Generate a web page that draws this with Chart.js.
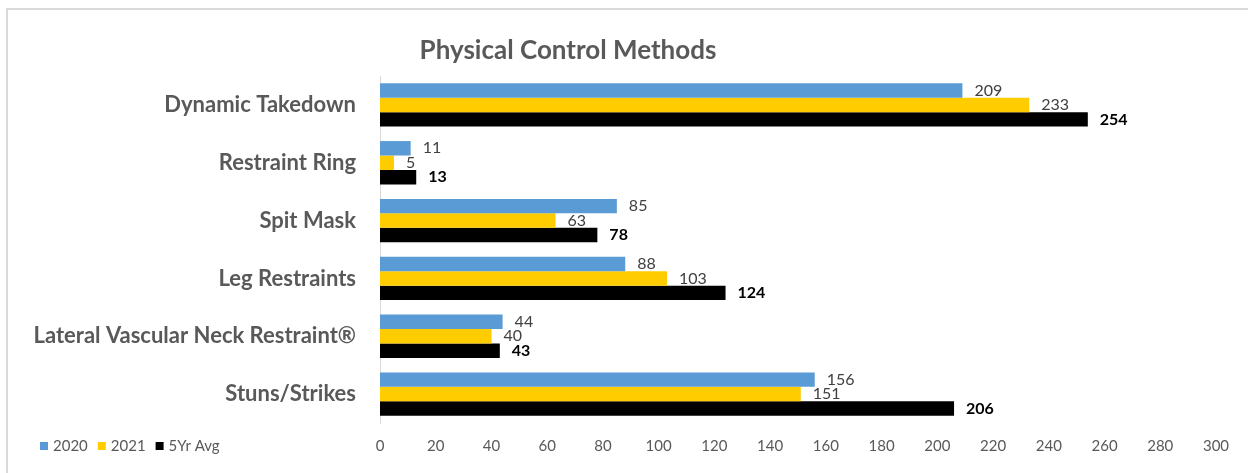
<!DOCTYPE html>
<html>
<head>
<meta charset="utf-8">
<script src="https://cdn.jsdelivr.net/npm/chart.js@4.4.0/dist/chart.umd.min.js"></script>
<style>
html,body{margin:0;padding:0;background:#fff;}
#wrap{position:relative;width:1248px;height:473px;}
</style>
</head>
<body>
<div id="wrap"><canvas id="c" width="1248" height="473"></canvas></div>
<script>
const titleText = "Physical Control Methods";
const categories = ["Dynamic Takedown", "Restraint Ring", "Spit Mask", "Leg Restraints", "Lateral Vascular Neck Restraint®", "Stuns/Strikes"];
const seriesNames = ["2020", "2021", "5Yr Avg"];
const values2020 = [209, 11, 85, 88, 44, 156];
const values2021 = [233, 5, 63, 103, 40, 151];
const values5yr = [254, 13, 78, 124, 43, 206];
const xTicks = [0, 20, 40, 60, 80, 100, 120, 140, 160, 180, 200, 220, 240, 260, 280, 300];

const FONT = "Lato, 'Open Sans', sans-serif";
const colors = ["#5B9BD5", "#FFCC00", "#000000"];

const framePlugin = {
  id: 'frame',
  beforeDraw(chart) {
    const ctx = chart.ctx;
    ctx.save();
    ctx.fillStyle = '#fff';
    ctx.fillRect(0, 0, chart.width, chart.height);
    ctx.strokeStyle = '#d9d9d9';
    ctx.lineWidth = 2;
    ctx.beginPath();
    ctx.moveTo(7, chart.height + 5);
    ctx.lineTo(7, 9);
    ctx.lineTo(chart.width + 5, 9);
    ctx.stroke();
    ctx.restore();
  }
};

const extrasPlugin = {
  id: 'extras',
  afterDatasetsDraw(chart) {
    const ctx = chart.ctx;
    ctx.save();
    // data labels
    chart.data.datasets.forEach((ds, di) => {
      const meta = chart.getDatasetMeta(di);
      meta.data.forEach((bar, i) => {
        const bold = di === 2;
        ctx.font = (bold ? "bold " : "") + "16px " + FONT;
        ctx.fillStyle = bold ? "#000000" : "#404040";
        ctx.textAlign = "left";
        ctx.textBaseline = "middle";
        ctx.fillText(String(ds.data[i]), bar.x + 12, bar.y);
      });
    });
    // title
    ctx.font = "bold 26px " + FONT;
    ctx.fillStyle = "#595959";
    ctx.textAlign = "center";
    ctx.textBaseline = "middle";
    ctx.fillText(titleText, 568, 51);
    // legend
    const ly = 446;
    let lx = 40;
    ctx.font = "15px " + FONT;
    ctx.textAlign = "left";
    chart.data.datasets.forEach((ds, di) => {
      ctx.fillStyle = ds.backgroundColor;
      ctx.fillRect(lx, ly - 4, 8, 8);
      ctx.fillStyle = "#595959";
      ctx.fillText(ds.label, lx + 13, ly);
      lx += 13 + ctx.measureText(ds.label).width + 10;
    });
    ctx.restore();
  }
};

new Chart(document.getElementById('c'), {
  type: 'bar',
  data: {
    labels: categories,
    datasets: [
      { label: seriesNames[0], data: values2020, backgroundColor: colors[0] },
      { label: seriesNames[1], data: values2021, backgroundColor: colors[1] },
      { label: seriesNames[2], data: values5yr, backgroundColor: colors[2] }
    ]
  },
  options: {
    indexAxis: 'y',
    responsive: false,
    animation: false,
    devicePixelRatio: 1,
    layout: { padding: { top: 76, left: 10, right: 32, bottom: 4 } },
    datasets: { bar: { categoryPercentage: 0.75, barPercentage: 1.0 } },
    plugins: {
      legend: { display: false },
      title: { display: false },
      tooltip: { enabled: false }
    },
    scales: {
      x: {
        min: 0, max: 300,
        afterBuildTicks(scale) { scale.ticks = xTicks.map(v => ({ value: v })); },
        grid: { display: false, drawTicks: false },
        border: { display: false },
        ticks: { color: "#595959", font: { family: FONT, size: 15 }, padding: 14, maxRotation: 0, autoSkip: false }
      },
      y: {
        afterFit(scale) { scale.width = 370; },
        grid: { display: false, drawTicks: false },
        border: { display: true, color: "#d9d9d9", width: 1 },
        ticks: { color: "#595959", font: { family: FONT, size: 22, weight: 'bold' }, padding: 24 }
      }
    }
  },
  plugins: [framePlugin, extrasPlugin]
});
</script>
</body>
</html>
